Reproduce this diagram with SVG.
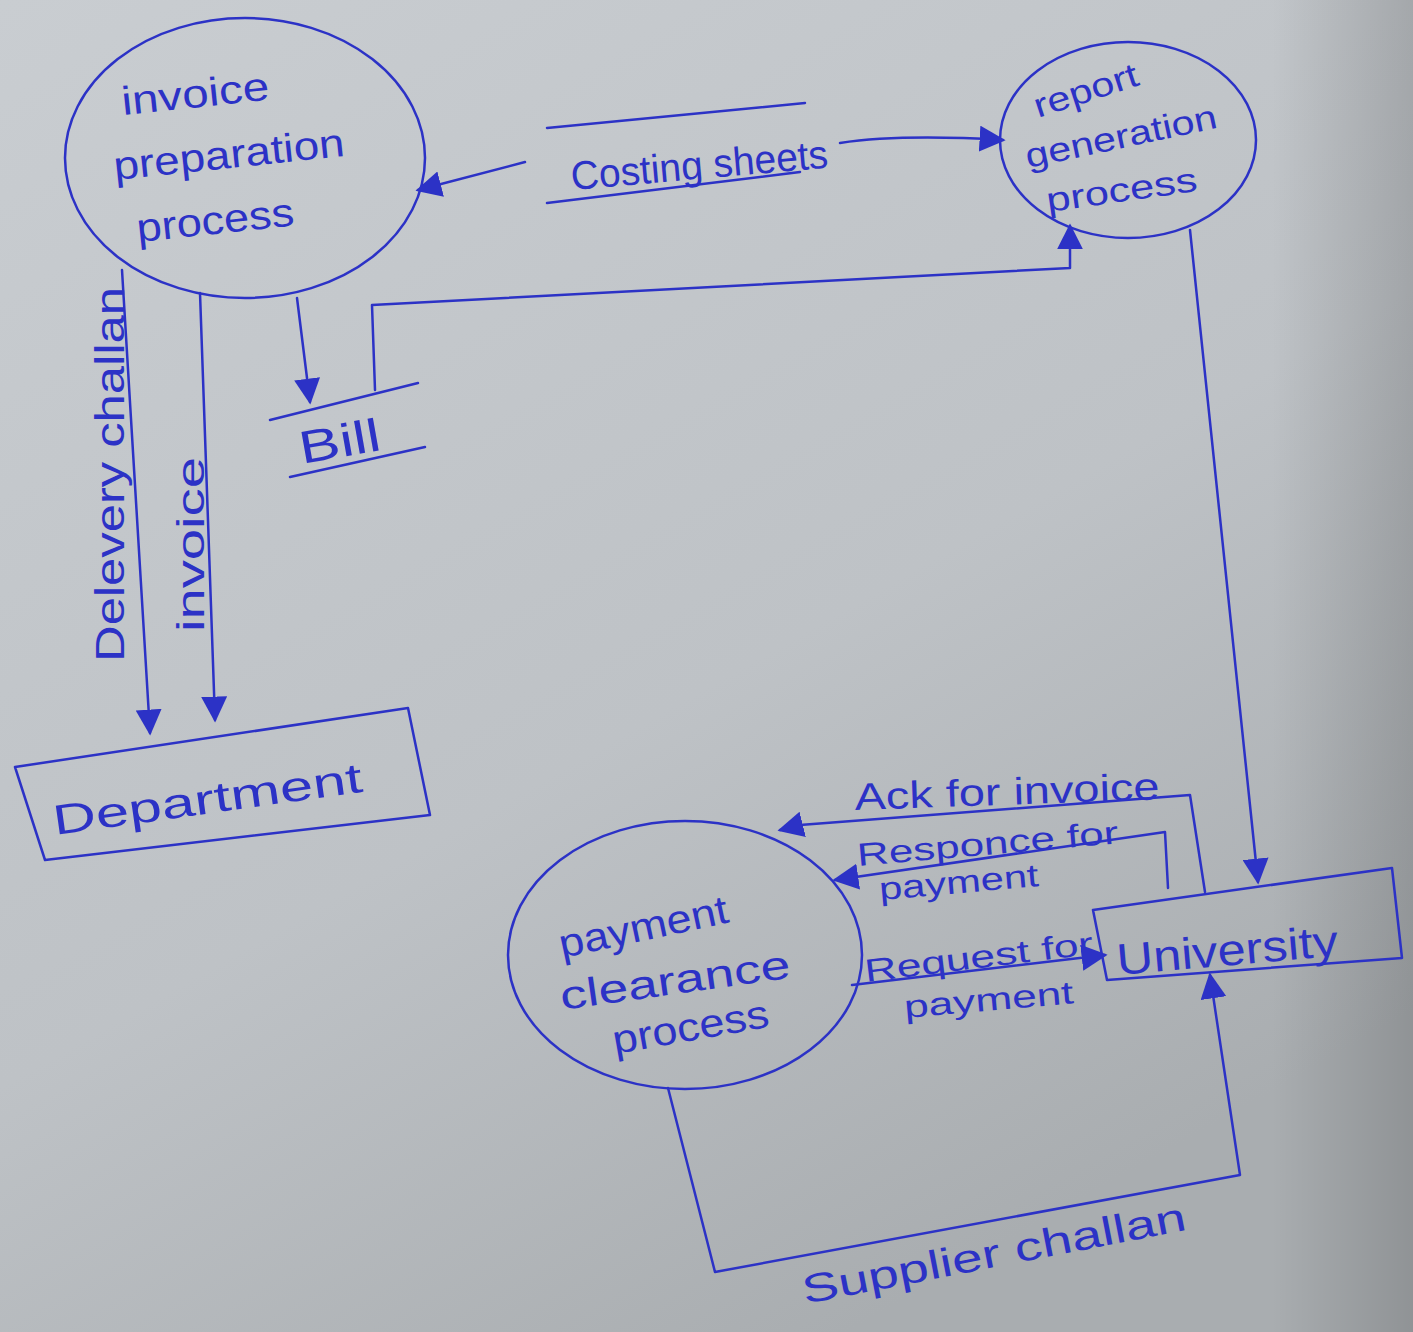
<svg xmlns="http://www.w3.org/2000/svg" width="1413" height="1332" viewBox="0 0 1413 1332">
<defs>
<linearGradient id="bg" x1="0" y1="0" x2="0.6" y2="1">
<stop offset="0" stop-color="#c9cdd1"/>
<stop offset="0.6" stop-color="#bec2c6"/>
<stop offset="1" stop-color="#a9adb0"/>
</linearGradient>
<linearGradient id="edge" x1="0" y1="0" x2="1" y2="0">
<stop offset="0.9" stop-color="#000" stop-opacity="0"/>
<stop offset="1" stop-color="#000" stop-opacity="0.15"/>
</linearGradient>
<marker id="ah" viewBox="0 0 10 10" refX="9" refY="5" markerWidth="26" markerHeight="26" markerUnits="userSpaceOnUse" orient="auto">
<path d="M0,0 L10,5 L0,10 Z" fill="#2c32c6"/>
</marker>
<style>
.ink{fill:none;stroke:#2c32c6;stroke-width:2.5;stroke-linejoin:round;stroke-linecap:round}
.t{fill:#2c32c6;font-family:"Liberation Sans",Arial,sans-serif}
</style>
</defs>
<rect width="1413" height="1332" fill="url(#bg)"/>
<rect width="1413" height="1332" fill="url(#edge)"/>

<g id="invoice-preparation-process">
<ellipse class="ink" cx="245" cy="158" rx="180" ry="140"/>
<text class="t" font-size="40" transform="translate(123,115) rotate(-6)" textLength="148" lengthAdjust="spacingAndGlyphs">invoice</text>
<text class="t" font-size="40" transform="translate(115,180) rotate(-6)" textLength="232" lengthAdjust="spacingAndGlyphs">preparation</text>
<text class="t" font-size="40" transform="translate(138,242) rotate(-6)" textLength="158" lengthAdjust="spacingAndGlyphs">process</text>
</g>

<g id="report-generation-process">
<ellipse class="ink" cx="1128" cy="140" rx="128" ry="98"/>
<text class="t" font-size="34" transform="translate(1038,118) rotate(-18)" textLength="108" lengthAdjust="spacingAndGlyphs">report</text>
<text class="t" font-size="34" transform="translate(1028,168) rotate(-12)" textLength="195" lengthAdjust="spacingAndGlyphs">generation</text>
<text class="t" font-size="34" transform="translate(1048,212) rotate(-8)" textLength="152" lengthAdjust="spacingAndGlyphs">process</text>
</g>

<g id="costing-sheets">
<path class="ink" d="M547,128 L805,103"/>
<path class="ink" d="M547,203 L800,172"/>
<text class="t" font-size="40" transform="translate(572,190) rotate(-5)" textLength="258" lengthAdjust="spacingAndGlyphs">Costing sheets</text>
</g>

<g id="bill">
<path class="ink" d="M270,420 L418,383"/>
<path class="ink" d="M290,477 L425,447"/>
<text class="t" font-size="46" transform="translate(302,464) rotate(-10)" textLength="82" lengthAdjust="spacingAndGlyphs">Bill</text>
</g>

<g id="department">
<path class="ink" d="M15,767 L408,708 L430,815 L45,860 Z"/>
<text class="t" font-size="42" transform="translate(55,835) rotate(-8)" textLength="312" lengthAdjust="spacingAndGlyphs">Department</text>
</g>

<g id="university">
<path class="ink" d="M1093,910 L1392,868 L1402,958 L1107,980 Z"/>
<text class="t" font-size="44" transform="translate(1118,975) rotate(-5)" textLength="222" lengthAdjust="spacingAndGlyphs">University</text>
</g>

<g id="payment-clearance-process">
<ellipse class="ink" cx="685" cy="955" rx="177" ry="134"/>
<text class="t" font-size="40" transform="translate(562,958) rotate(-12)" textLength="172" lengthAdjust="spacingAndGlyphs">payment</text>
<text class="t" font-size="40" transform="translate(562,1010) rotate(-8)" textLength="232" lengthAdjust="spacingAndGlyphs">clearance</text>
<text class="t" font-size="40" transform="translate(615,1054) rotate(-10)" textLength="158" lengthAdjust="spacingAndGlyphs">process</text>
</g>

<g id="connectors">
<path class="ink" d="M525,162 L418,190" marker-end="url(#ah)"/>
<path class="ink" d="M840,143 Q900,134 1003,140" marker-end="url(#ah)"/>
<path class="ink" d="M297,298 L310,402" marker-end="url(#ah)"/>
<path class="ink" d="M375,390 L372,305 L1070,268 L1070,226" marker-end="url(#ah)"/>
<path class="ink" d="M122,270 L150,733" marker-end="url(#ah)"/>
<path class="ink" d="M200,293 L215,720" marker-end="url(#ah)"/>
<path class="ink" d="M1190,230 L1258,882" marker-end="url(#ah)"/>
<path class="ink" d="M1205,892 L1190,795 L800,825 L780,830" marker-end="url(#ah)"/>
<path class="ink" d="M1168,888 L1165,832 L835,880" marker-end="url(#ah)"/>
<path class="ink" d="M852,985 L1105,955" marker-end="url(#ah)"/>
<path class="ink" d="M668,1088 L715,1272 L1240,1175 L1210,975" marker-end="url(#ah)"/>
<text class="t" font-size="40" transform="translate(124,662) rotate(-90)" textLength="375" lengthAdjust="spacingAndGlyphs">Delevery challan</text>
<text class="t" font-size="38" transform="translate(204,632) rotate(-90)" textLength="175" lengthAdjust="spacingAndGlyphs">invoice</text>
<text class="t" font-size="38" transform="translate(855,810) rotate(-2)" textLength="305" lengthAdjust="spacingAndGlyphs">Ack for invoice</text>
<text class="t" font-size="32" transform="translate(858,866) rotate(-5)" textLength="262" lengthAdjust="spacingAndGlyphs">Responce for</text>
<text class="t" font-size="32" transform="translate(880,900) rotate(-5)" textLength="160" lengthAdjust="spacingAndGlyphs">payment</text>
<text class="t" font-size="32" transform="translate(866,982) rotate(-7)" textLength="230" lengthAdjust="spacingAndGlyphs">Request for</text>
<text class="t" font-size="32" transform="translate(905,1018) rotate(-5)" textLength="170" lengthAdjust="spacingAndGlyphs">payment</text>
<text class="t" font-size="40" transform="translate(805,1304) rotate(-11)" textLength="390" lengthAdjust="spacingAndGlyphs">Supplier challan</text>
</g>
</svg>
